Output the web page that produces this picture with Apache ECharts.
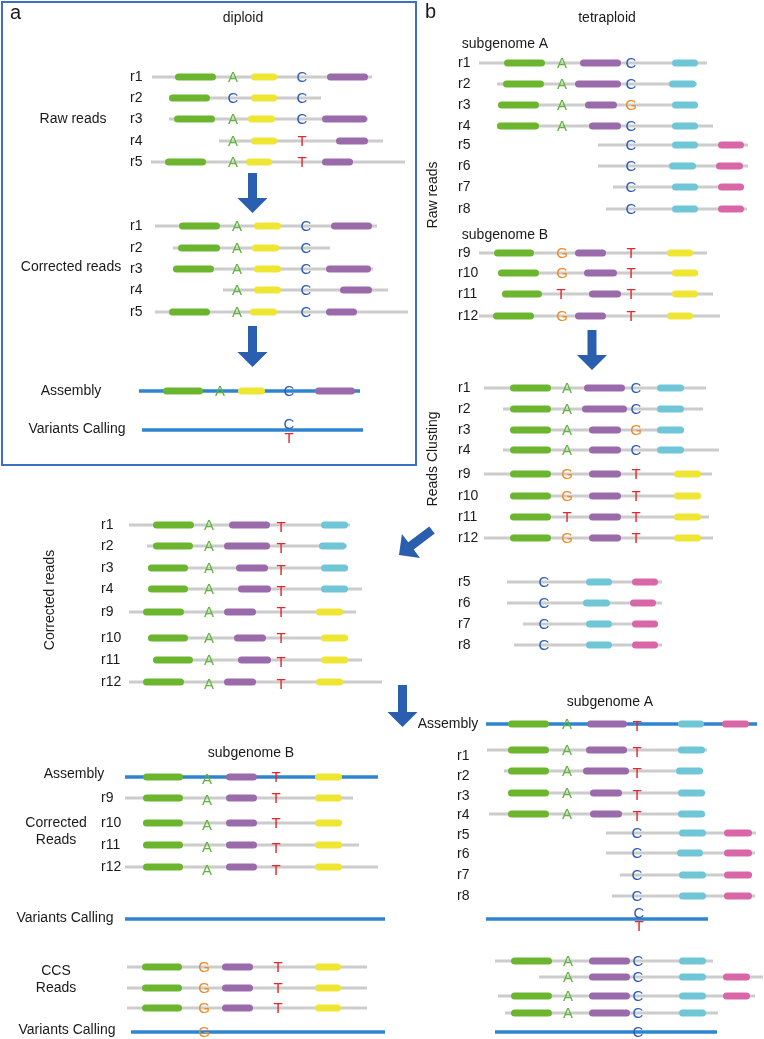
<!DOCTYPE html>
<html><head><meta charset="utf-8">
<script src="https://cdn.jsdelivr.net/npm/echarts@6/dist/echarts.min.js"></script>
<style>html,body{margin:0;padding:0;background:#fff}#c{width:764px;height:1039px}</style>
</head><body><div id="c"></div>
<script>
// ---- data: reads as [label, y, start, end, blocks, bases, labelY] ----
const diploidRaw = [
  ['r1',77,152,372,[[175,216,'g'],[251,277,'y'],[327,368,'p']],[[233,'A'],[302,'C']]],
  ['r2',98,169,321,[[169,210,'g'],[251,277,'y']],[[233,'C'],[302,'C']]],
  ['r3',119,169,368,[[174,215,'g'],[248,275,'y'],[322,367,'p']],[[233,'A'],[302,'C']]],
  ['r4',141,219,383,[[251,277,'y'],[336,368,'p']],[[233,'A'],[302,'T']]],
  ['r5',162,151,405,[[165,206,'g'],[246,272,'y'],[322,353,'p']],[[233,'A'],[302,'T']]]
];
const diploidCorrected = [
  ['r1',226,155,377,[[179,220,'g'],[254,281,'y'],[331,372,'p']],[[237,'A'],[306,'C']]],
  ['r2',248,173,330,[[178,220,'g'],[252,279,'y']],[[237,'A'],[306,'C']]],
  ['r3',269,173,373,[[173,214,'g'],[254,281,'y'],[326,371,'p']],[[237,'A'],[306,'C']]],
  ['r4',290,223,388,[[254,281,'y'],[340,372,'p']],[[237,'A'],[306,'C']]],
  ['r5',312,155,408,[[169,210,'g'],[250,277,'y'],[326,357,'p']],[[237,'A'],[306,'C']]]
];
const tetraRawA = [
  ['r1',63,479,707,[[504,545,'g'],[580,621,'p'],[672,698,'c']],[[562,'A'],[631,'C']]],
  ['r2',84,497,697,[[503,544,'g'],[575,621,'p'],[669,696,'c']],[[562,'A'],[631,'C']]],
  ['r3',105,498,698,[[498,539,'g'],[585,617,'p'],[672,698,'c']],[[562,'A'],[631,'G']]],
  ['r4',126,497,713,[[497,539,'g'],[589,621,'p'],[672,698,'c']],[[562,'A'],[631,'C']]],
  ['r5',145,598,748,[[672,698,'c'],[718,744,'m']],[[631,'C']]],
  ['r6',166,598,748,[[669,696,'c'],[716,743,'m']],[[631,'C']]],
  ['r7',187,613,744,[[672,698,'c'],[718,744,'m']],[[631,'C']]],
  ['r8',209,606,747,[[672,698,'c'],[718,744,'m']],[[631,'C']]]
];
const tetraRawB = [
  ['r9',253,479,707,[[494,534,'g'],[575,606,'p'],[667,693,'y']],[[562,'G'],[631,'T']]],
  ['r10',273,498,698,[[498,539,'g'],[584,617,'p'],[672,698,'y']],[[562,'G'],[631,'T']]],
  ['r11',294,502,713,[[502,542,'g'],[589,621,'p'],[672,698,'y']],[[561,'T'],[631,'T']]],
  ['r12',316,479,720,[[493,534,'g'],[575,606,'p'],[667,693,'y']],[[562,'G'],[631,'T']]]
];
const clustered1 = [
  ['r1',388,484,706,[[510,551,'g'],[584,625,'p'],[657,684,'c']],[[567,'A'],[636,'C']]],
  ['r2',409,503,703,[[510,551,'g'],[582,627,'p'],[657,684,'c']],[[567,'A'],[636,'C']]],
  ['r3',430,510,684,[[510,551,'g'],[589,621,'p'],[657,684,'c']],[[567,'A'],[636,'G']]],
  ['r4',450,503,719,[[510,551,'g'],[589,621,'p'],[657,684,'c']],[[567,'A'],[636,'C']]],
  ['r9',474,484,712,[[510,551,'g'],[589,621,'p'],[674,701,'y']],[[567,'G'],[636,'T']]],
  ['r10',496,510,701,[[510,551,'g'],[589,621,'p'],[674,701,'y']],[[567,'G'],[636,'T']]],
  ['r11',517,510,709,[[510,551,'g'],[589,621,'p'],[674,701,'y']],[[567,'T'],[636,'T']]],
  ['r12',538,484,713,[[510,551,'g'],[589,621,'p'],[674,701,'y']],[[567,'G'],[636,'T']]]
];
const clustered2 = [
  ['r5',582,507,662,[[586,612,'c'],[632,658,'m']],[[544,'C']]],
  ['r6',603,507,662,[[583,610,'c'],[630,656,'m']],[[544,'C']]],
  ['r7',624,523,658,[[586,612,'c'],[632,658,'m']],[[544,'C']]],
  ['r8',645,514,662,[[586,612,'c'],[632,658,'m']],[[544,'C']]]
];
const tetraCorrected = [
  ['r1',525,129,350,[[153,194,'g'],[229,270,'p'],[321,348,'c']],[[209,'A'],[281,'T',2]]],
  ['r2',546,147,347,[[153,193,'g'],[224,270,'p'],[319,346,'c']],[[209,'A'],[281,'T',2]]],
  ['r3',568,148,348,[[148,188,'g'],[236,268,'p'],[321,348,'c']],[[209,'A'],[281,'T',2]]],
  ['r4',589,148,362,[[148,188,'g'],[238,271,'p'],[321,348,'c']],[[209,'A'],[281,'T',2]]],
  ['r9',612,129,356,[[143,184,'g'],[224,256,'p'],[316,343,'y']],[[209,'A'],[281,'T']]],
  ['r10',638,148,348,[[148,188,'g'],[234,266,'p'],[321,348,'y']],[[209,'A'],[281,'T']]],
  ['r11',660,153,362,[[153,193,'g'],[238,271,'p'],[321,348,'y']],[[209,'A'],[281,'T',2]]],
  ['r12',682,129,382,[[143,184,'g'],[224,256,'p'],[316,343,'y']],[[209,'A',2],[281,'T',2]]]
];
const subBReads = [
  ['r9',798,125,353,[[143,183,'g'],[226,257,'p'],[315,342,'y']],[[207,'A',2],[276,'T']]],
  ['r10',823,143,342,[[143,183,'g'],[226,257,'p'],[315,342,'y']],[[207,'A',2],[276,'T']]],
  ['r11',845,143,359,[[143,183,'g'],[226,257,'p'],[315,342,'y']],[[207,'A',2],[276,'T',3]]],
  ['r12',867,125,378,[[143,183,'g'],[226,257,'p'],[315,342,'y']],[[207,'A',3],[276,'T',3]]]
];
const ccsB = [
  ['',967,127,367,[[142,182,'g'],[222,253,'p'],[315,341,'y']],[[204,'G'],[278,'T']]],
  ['',988,127,367,[[142,182,'g'],[222,253,'p'],[315,341,'y']],[[204,'G'],[278,'T']]],
  ['',1008,127,367,[[142,182,'g'],[222,253,'p'],[315,341,'y']],[[204,'G'],[278,'T']]]
];
const subAReads = [
  ['r1',750,487,707,[[508,549,'g'],[586,627,'p'],[678,705,'c']],[[567,'A'],[637,'T',2]],756],
  ['r2',771,504,703,[[508,549,'g'],[583,629,'p'],[676,703,'c']],[[567,'A'],[637,'T',2]],776],
  ['r3',793,508,705,[[508,549,'g'],[590,622,'p'],[678,705,'c']],[[567,'A'],[637,'T',2]],796],
  ['r4',814,489,705,[[508,549,'g'],[590,622,'p'],[678,705,'c']],[[567,'A'],[637,'T',2]],815],
  ['r5',833,606,756,[[679,706,'c'],[724,752,'m']],[[637,'C']],835],
  ['r6',853,606,755,[[677,703,'c'],[724,752,'m']],[[637,'C']],854],
  ['r7',875,620,752,[[679,706,'c'],[724,752,'m']],[[637,'C']],875],
  ['r8',896,612,755,[[679,706,'c'],[724,752,'m']],[[637,'C']],896]
];
const ccsA = [
  ['',961,495,713,[[511,552,'g'],[589,630,'p'],[679,706,'c']],[[568,'A'],[638,'C']]],
  ['',977,539,763,[[589,630,'p'],[679,706,'c'],[723,750,'m']],[[568,'A'],[638,'C']]],
  ['',996,498,755,[[511,552,'g'],[589,630,'p'],[679,706,'c'],[723,750,'m']],[[568,'A'],[638,'C']]],
  ['',1013,505,718,[[511,552,'g'],[589,630,'p'],[679,706,'c']],[[568,'A'],[638,'C']]]
];
// blue reference lines: [y, start, end, blocks, bases]
const blueLines = [
  [391,139,360,[[163,203,'g'],[238,265,'y'],[315,355,'p']],[[220,'A'],[289,'C']]],
  [430,142,363,[],[[289,'C',-6],[289,'T',8]]],
  [777,125,378,[[143,183,'g'],[226,257,'p'],[315,342,'y']],[[207,'A',2],[276,'T']]],
  [919,125,385,[],[]],
  [1032,131,385,[],[[204,'G']]],
  [724,486,757,[[508,549,'g'],[587,627,'p'],[678,704,'c'],[722,749,'m']],[[567,'A'],[637,'T',2]]],
  [919,486,708,[],[[639,'C',-6],[639,'T',7]]],
  [1032,495,717,[],[[638,'C']]]
];
// read groups: [reads, label x]
const readGroups = [
  [diploidRaw,130],[diploidCorrected,130],[tetraRawA,458],[tetraRawB,458],
  [clustered1,458],[clustered2,458],[tetraCorrected,101],[subBReads,101],
  [ccsB,101],[subAReads,457],[ccsA,457]
];
// texts: [text, x, y, kind]
const texts = [
  ['a',10,13,'panel'],['diploid',243,18,'title'],
  ['Raw reads',73,119,'label'],['Corrected reads',71,267,'label'],
  ['Assembly',71,391,'label'],['Variants Calling',77,429,'label'],
  ['b',425,12,'panel'],['tetraploid',607,18,'title'],
  ['subgenome A',505,44,'title'],['subgenome B',505,235,'title'],
  ['Raw reads',433,195,'vlabel'],['Reads Clusting',433,459,'vlabel'],
  ['Corrected reads',50,600,'vlabel'],
  ['subgenome B',251,753,'title'],['Assembly',74,774,'label'],
  ['Corrected\nReads',56,832,'label'],['Variants Calling',65,918,'label'],
  ['CCS\nReads',56,980,'label'],['Variants Calling',67,1030,'label'],
  ['subgenome A',610,702,'title'],['Assembly',448,724,'label']
];
// arrows: [tailX, tailY, tipX, tipY]
const arrows = [
  [252.5,173,252.5,213],[252.5,326,252.5,367],[592,330,592,370],
  [402.5,685,402.5,727],[432,530,399,555]
];
// panel a frame: [x0,y0,x1,y1]
const frames = [[2,2,416,465]];

// ---- styles ----
const FONT = '"Liberation Sans", Arial, Helvetica, sans-serif';
const SEG = {g:'#6cb62f',y:'#efe634',p:'#9a6aab',c:'#6ec6d6',m:'#d967a8'};
const BASE = {A:'#5fb43a',C:'#2a5cb6',T:'#e8272b',G:'#f08a22'};
const GRAY = '#cccccc', BLUE = '#2f84cf', ARROW = '#2a5eae', FRAME = '#3e70c2';
const TEXT_STYLE = {
  panel:{size:20,align:'left'}, title:{size:14,align:'center'},
  label:{size:14,align:'center'}, vlabel:{size:14,align:'center',rot:Math.PI/2},
  rlabel:{size:14,align:'left'}
};

// ---- build items ----
const lineItems = [], segItems = [], baseItems = [], textItems = [];
function addBody(y, x0, x1, blocks, bases, color, width){
  lineItems.push({x0, x1, y, color, width});
  blocks.forEach(b => segItems.push({x0:b[0], x1:b[1], y, color:SEG[b[2]]}));
  bases.forEach(b => baseItems.push({x:b[0], y:y + (b[2]||0), t:b[1]}));
}
readGroups.forEach(([reads, lx]) => reads.forEach(r => {
  addBody(r[1], r[2], r[3], r[4], r[5], GRAY, 3);
  if (r[0]) textItems.push({t:r[0], x:lx, y:(r[6]||r[1]), kind:'rlabel'});
}));
blueLines.forEach(b => addBody(b[0], b[1], b[2], b[3], b[4], BLUE, 3.5));
texts.forEach(t => textItems.push({t:t[0], x:t[1], y:t[2], kind:t[3]}));

function idx(a){ return a.map((_, i) => [i]); }

const chart = echarts.init(document.getElementById('c'), null, {renderer:'canvas'});
chart.setOption({
  animation:false,
  backgroundColor:'#ffffff',
  grid:{left:0,right:0,top:0,bottom:0},
  xAxis:{type:'value',min:0,max:764,show:false},
  yAxis:{type:'value',min:0,max:1039,inverse:true,show:false},
  series:[
    {type:'custom', clip:false, data:idx(frames), z:1,
     renderItem:(p, api) => { const f = frames[p.dataIndex];
       const a = api.coord([f[0],f[1]]), b = api.coord([f[2],f[3]]);
       return {type:'rect', shape:{x:a[0],y:a[1],width:b[0]-a[0],height:b[1]-a[1]},
         style:{fill:'none',stroke:FRAME,lineWidth:2}}; }},
    {type:'custom', clip:false, data:idx(lineItems), z:2,
     renderItem:(p, api) => { const d = lineItems[p.dataIndex];
       const a = api.coord([d.x0,d.y]), b = api.coord([d.x1,d.y]);
       return {type:'line', shape:{x1:a[0],y1:a[1],x2:b[0],y2:b[1]},
         style:{stroke:d.color,lineWidth:d.width,lineCap:'butt'}}; }},
    {type:'custom', clip:false, data:idx(segItems), z:3,
     renderItem:(p, api) => { const d = segItems[p.dataIndex];
       const a = api.coord([d.x0,d.y]), b = api.coord([d.x1,d.y]);
       return {type:'line', shape:{x1:a[0]+3.5,y1:a[1],x2:b[0]-3.5,y2:b[1]},
         style:{stroke:d.color,lineWidth:7,lineCap:'round'}}; }},
    {type:'custom', clip:false, data:idx(baseItems), z:4,
     renderItem:(p, api) => { const d = baseItems[p.dataIndex];
       const a = api.coord([d.x,d.y]);
       return {type:'text', x:a[0], y:a[1]+1,
         style:{text:d.t, fill:BASE[d.t], fontSize:15, fontFamily:FONT,
           align:'center', verticalAlign:'middle'}}; }},
    {type:'custom', clip:false, data:idx(textItems), z:5,
     renderItem:(p, api) => { const d = textItems[p.dataIndex];
       const s = TEXT_STYLE[d.kind]; const a = api.coord([d.x,d.y]);
       return {type:'text', x:a[0], y:a[1], rotation:s.rot||0,
         style:{text:d.t, fill:'#1a1a1a', fontSize:s.size, fontFamily:FONT,
           align:s.align, verticalAlign:'middle', lineHeight:17}}; }},
    {type:'custom', clip:false, data:idx(arrows), z:6,
     renderItem:(p, api) => { const d = arrows[p.dataIndex];
       const t = api.coord([d[0],d[1]]), h = api.coord([d[2],d[3]]);
       const dx = h[0]-t[0], dy = h[1]-t[1], L = Math.hypot(dx,dy);
       const ux = dx/L, uy = dy/L, nx = -uy, ny = ux;
       const sw = 4.5, hw = 15, hl = 15;
       const bx = h[0]-ux*hl, by = h[1]-uy*hl;
       const pts = [
         [t[0]+nx*sw,t[1]+ny*sw],[bx+nx*sw,by+ny*sw],[bx+nx*hw,by+ny*hw],
         [h[0],h[1]],[bx-nx*hw,by-ny*hw],[bx-nx*sw,by-ny*sw],[t[0]-nx*sw,t[1]-ny*sw]];
       return {type:'polygon', shape:{points:pts}, style:{fill:ARROW}}; }}
  ]
});
</script></body></html>
